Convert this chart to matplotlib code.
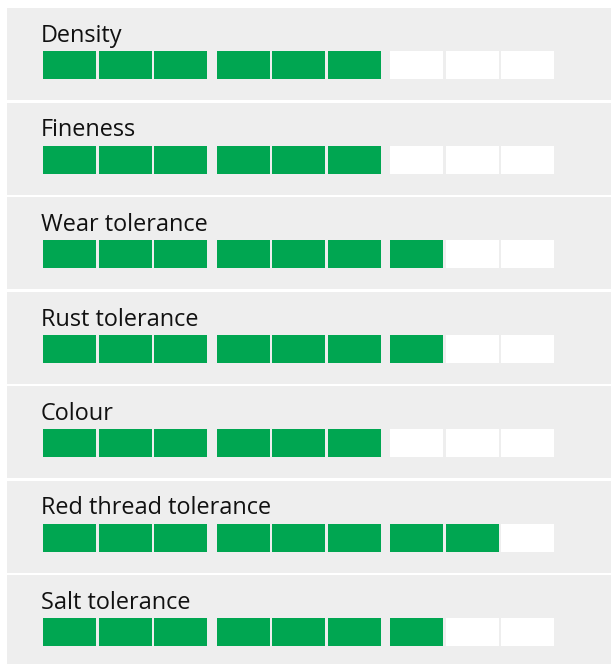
import matplotlib
matplotlib.use("agg")
import matplotlib.pyplot as plt
from matplotlib.patches import Rectangle

# ratings out of 9
labels = ["Density", "Fineness", "Wear tolerance", "Rust tolerance",
          "Colour", "Red thread tolerance", "Salt tolerance"]
scores = [6, 6, 7, 7, 6, 8, 7]
max_score = 9

green = "#00a651"
panel_grey = "#eeeeee"

fig = plt.figure(figsize=(6.11, 6.64), dpi=100)
ax = fig.add_axes([0, 0, 1, 1])
ax.set_xlim(0, 611)
ax.set_ylim(664, 0)
ax.axis("off")

# layout in pixels
pitch = 94.5
panel_h = 92
top0 = 8
seg_w = 53
seg_gap = 2.5
group_step = 173.5
x0 = 43

for row, (lab, sc) in enumerate(zip(labels, scores)):
    top = top0 + row * pitch
    ax.add_patch(Rectangle((7, top), 620, panel_h, color=panel_grey, lw=0))
    ax.text(41, top + 34, lab, fontsize=16.9, family="Open Sans",
            color="#111111", va="baseline", ha="left")
    for i in range(max_score):
        g, j = divmod(i, 3)
        x = x0 + g * group_step + j * (seg_w + seg_gap)
        c = green if i < sc else "white"
        ax.add_patch(Rectangle((x, top + 43), seg_w, 28, color=c, lw=0))

fig.savefig("out.png", dpi=100)
